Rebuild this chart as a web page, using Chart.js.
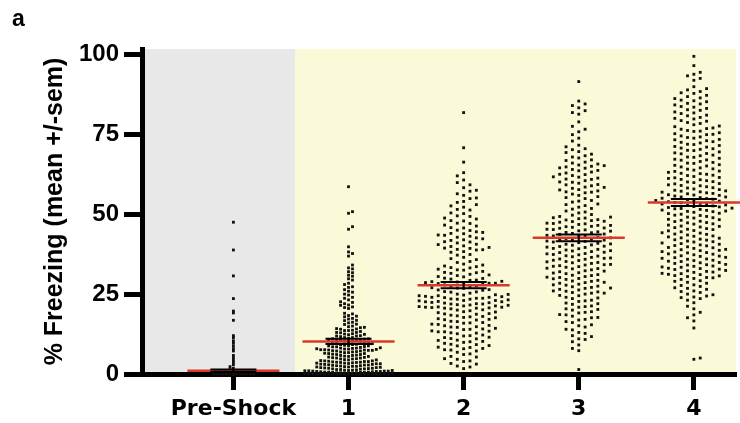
<!DOCTYPE html>
<html>
<head>
<meta charset="utf-8">
<title>Freezing</title>
<script src="https://cdn.jsdelivr.net/npm/chart.js@4.4.1/dist/chart.umd.min.js"></script>
<style>
  html, body { margin: 0; padding: 0; background: #ffffff; }
  canvas { display: block; }
</style>
</head>
<body>
<canvas id="myChart" width="740" height="423"></canvas>
<script>
// x categories and y ticks
const categories = ["Pre-Shock", "1", "2", "3", "4"];
const yTicks = [0, 25, 50, 75, 100];

// group mean (red line) and sem (black bar)
const means = [1.0, 10.2, 27.8, 42.6, 53.7];
const sems = [0.4, 0.8, 0.95, 1.05, 1.1];

// % freezing per animal, estimated from the swarm
const preShock = [
  47.5, 38.8, 30.7, 23.6, 19.7, 19.1, 16.8, 12.0, 11.4, 10.4, 9.6, 8.7, 7.9, 7.2, 5.8, 5.1, 4.3, 3.6, 2.9, 2.3,
  1.8, 1.4, 1.1, 0.8, 0.6, 0.4,
  0, 0, 0, 0, 0, 0, 0, 0, 0, 0, 0, 0, 0, 0, 0, 0, 0, 0, 0, 0,
  0, 0, 0, 0, 0, 0, 0, 0, 0, 0, 0, 0, 0, 0, 0, 0, 0, 0, 0, 0,
  0, 0, 0, 0, 0, 0, 0, 0, 0, 0, 0, 0, 0, 0, 0, 0, 0, 0, 0, 0,
  0, 0, 0, 0, 0, 0, 0, 0, 0, 0, 0, 0, 0, 0, 0, 0, 0, 0, 0, 0,
  0, 0, 0, 0, 0, 0, 0, 0, 0, 0, 0, 0, 0, 0, 0, 0, 0, 0, 0, 0,
  0, 0, 0, 0, 0, 0, 0, 0, 0, 0, 0, 0, 0, 0, 0, 0, 0, 0, 0, 0,
  0, 0, 0, 0, 0, 0, 0, 0, 0, 0, 0, 0, 0, 0, 0, 0, 0, 0, 0, 0,
  0, 0, 0, 0, 0, 0, 0, 0, 0, 0, 0, 0, 0, 0, 0, 0, 0, 0, 0, 0,
  0, 0, 0, 0, 0, 0, 0, 0, 0, 0, 0, 0, 0, 0, 0, 0, 0, 0, 0, 0,
  0, 0, 0, 0, 0, 0, 0, 0, 0, 0, 0, 0, 0, 0, 0, 0, 0, 0, 0, 0,
  0, 0, 0, 0, 0, 0, 0, 0, 0, 0, 0, 0, 0, 0, 0, 0, 0, 0, 0, 0
];
const shock1 = [
  58.6, 50.8, 50.3, 46.1, 45.3, 39.8, 38.2, 37.7, 36.9,
  34.1, 33.2, 32.9, 32.0, 31.7, 30.9, 30.6, 29.8, 29.4,
  28.4, 28.0, 27.3, 27.1, 26.4, 25.9, 25.6, 25.0, 24.7, 24.0, 23.7, 23.2,
  22.6, 22.4, 22.0, 21.6, 21.5, 21.0, 20.8, 20.5,
  19.0, 18.8, 18.3, 18.1, 17.9, 17.4, 17.2, 16.8, 16.7, 16.2, 16.0, 15.6, 15.5, 15.0, 14.8,
  14.6, 14.5, 14.2, 14.1, 14.0, 13.7, 13.6, 13.6, 13.3, 13.0, 13.0, 12.9, 12.6, 12.5, 12.4,
  12.3, 12.0, 11.9, 11.9, 11.7, 11.4, 11.4, 11.2, 11.0, 11.0, 10.9, 10.7, 10.6, 10.6, 10.5,
  10.4, 10.3, 10.3, 10.1, 9.9, 9.9, 9.8, 9.6, 9.5, 9.5, 9.3, 9.2, 9.2, 9.0, 8.9, 8.8, 8.8,
  8.6, 8.5, 8.5, 8.3, 8.2, 8.1, 8.1, 8.0, 7.9, 7.8, 7.8, 7.7, 7.6, 7.6, 7.5, 7.5, 7.4, 7.4,
  7.3, 7.2, 7.2, 7.0, 6.9, 6.9, 6.7, 6.7, 6.5, 6.4, 6.4, 6.2, 6.1, 6.1, 5.9, 5.8, 5.8, 5.6, 5.5, 5.5,
  5.3, 5.2, 5.1, 5.0, 5.0, 4.8, 4.7, 4.7, 4.5, 4.4, 4.4, 4.2, 4.1, 4.1, 4.0, 3.9, 3.9, 3.8, 3.7, 3.7,
  3.6, 3.6, 3.5, 3.4, 3.4, 3.3, 3.2, 3.2, 3.1, 3.0, 3.0, 2.9, 2.8, 2.8, 2.7, 2.6, 2.6, 2.5, 2.4, 2.4,
  2.3, 2.2, 2.2, 2.1, 2.0, 2.0, 1.9, 1.8, 1.8, 1.7, 1.6, 1.6, 1.5, 1.4, 1.4, 1.3, 1.2, 1.2, 1.1, 1.1,
  1.0, 1.0, 0.9, 0.9, 0.9, 0.8, 0.8, 0.8, 0.7, 0.7, 0.6, 0.6, 0.6, 0.5, 0.5, 0.5, 0.4, 0.4, 0.4, 0.3,
  0.3, 0.3, 0.2, 0.2, 0.2,
  0, 0, 0, 0, 0, 0, 0, 0, 0, 0, 0, 0, 0, 0, 0, 0, 0, 0, 0, 0
];
const shock2 = [
  81.8, 70.8, 66.3, 63.0, 62.0, 60.7, 59.9, 59.2,
  58.3, 57.5, 57.2, 56.4, 55.9, 55.1, 54.9, 54.0,
  53.7, 53.0, 52.6, 52.2, 51.5, 51.3, 50.4, 50.2, 49.5, 49.3, 48.8,
  48.5, 48.0, 47.9, 47.2, 47.1, 46.6, 46.3, 45.8, 45.7, 45.0, 44.9, 44.5, 44.3, 44.0,
  43.9, 43.5, 43.4, 43.1, 42.8, 42.6, 42.3, 42.0, 41.8, 41.4, 41.3, 41.0, 40.6, 40.5, 40.1,
  39.9, 39.6, 39.4, 39.3, 39.0, 38.9, 38.8,
  38.3, 38.1, 37.4, 37.2, 36.5, 36.1, 35.8, 35.2, 34.9, 34.4, 34.1, 33.8, 33.6,
  33.3, 33.2, 32.8, 32.6, 32.5, 32.1, 31.8, 31.7, 31.5, 31.2, 31.0, 30.8, 30.5, 30.4,
  30.0, 29.9, 29.7, 29.4, 29.3, 29.0, 28.9, 28.8, 28.6, 28.6, 28.4, 28.4, 28.3,
  28.1, 27.9, 27.6, 27.5, 27.4, 27.0, 26.9, 26.8, 26.4, 26.3, 26.2, 25.8, 25.7, 25.6, 25.3,
  25.0, 24.9, 24.8, 24.7,
  24.5, 24.5, 24.3, 24.2, 24.0, 24.0, 23.9, 23.7, 23.7, 23.5, 23.4, 23.4, 23.2, 23.0, 23.0,
  22.9, 22.7, 22.6, 22.6, 22.4, 22.3, 22.2, 22.0, 21.9, 21.9, 21.7, 21.6, 21.5, 21.3, 21.3,
  21.1, 21.0, 20.9, 20.9, 20.8, 20.7, 20.6, 20.6,
  20.4, 20.1, 20.0, 19.8, 19.5, 19.4, 19.2, 18.9, 18.8, 18.7, 18.4, 18.2, 18.0, 17.9,
  17.7, 17.6, 17.3, 17.1, 17.0, 16.9, 16.5, 16.4, 16.1, 16.0, 15.9, 15.6, 15.5, 15.2,
  15.1, 14.8, 14.7, 14.6, 14.3, 14.1, 14.0, 13.9, 13.5, 13.4, 13.2, 13.2, 12.9, 12.8,
  12.6, 12.2, 12.0, 11.9, 11.5, 11.4, 11.1, 11.0, 10.6, 10.5, 10.2, 10.1,
  9.9, 9.6, 9.3, 9.2, 8.9, 8.8, 8.4, 8.3, 8.0, 7.9, 7.6, 7.5,
  7.2, 6.8, 6.3, 6.1, 5.5, 5.3, 4.8, 4.6, 4.1, 3.9, 3.3, 3.1, 2.5, 2.2, 1.7
];
const shock3 = [
  91.5,
  85.4, 84.5, 84.0, 83.3, 82.4, 81.8, 81.3,
  78.9, 77.5, 76.6, 75.8, 74.9, 73.8, 72.9,
  71.6, 71.1, 70.5, 70.2, 69.6, 69.3, 68.8, 68.3, 67.9, 67.6, 67.0, 66.8, 66.3, 66.0, 65.7, 65.4, 65.2, 65.0,
  64.8, 64.5, 64.4, 64.0, 63.7, 63.6, 63.2, 62.9, 62.5, 62.4, 62.1, 61.7, 61.6, 61.3, 61.0, 60.9,
  60.5, 60.1, 60.0, 59.7, 59.3, 59.2, 58.9, 58.5, 58.4, 58.1, 57.7, 57.6, 57.3, 57.0, 56.9, 56.7,
  56.3, 55.9, 55.5, 55.2, 54.9, 54.3, 54.1, 53.8, 53.2, 53.0, 52.7, 52.2, 51.8, 51.6, 51.0, 50.7,
  50.4, 49.9, 49.7, 49.3,
  49.1, 48.9, 48.8, 48.6, 48.3, 48.2, 48.0, 47.8, 47.7, 47.5, 47.2, 47.1, 47.0, 46.8, 46.5,
  46.5, 46.2, 46.1, 45.9, 45.7, 45.6, 45.3, 45.2, 45.1, 44.8, 44.7, 44.5, 44.3, 44.2, 44.0,
  43.8, 43.7, 43.4, 43.3, 43.2, 43.0, 42.7, 42.6, 42.4, 42.2, 42.1, 41.9, 41.8, 41.6, 41.5,
  41.3, 41.1, 40.9, 40.7, 40.6, 40.4, 40.3, 40.0, 39.9, 39.7, 39.6, 39.3, 39.2, 39.0, 38.8,
  38.6, 38.5, 38.3, 38.1, 38.0, 37.7, 37.6, 37.4, 37.3, 37.0, 36.9, 36.7, 36.5, 36.3, 36.2,
  36.0, 35.9, 35.6, 35.5, 35.2, 35.1, 34.9, 34.8, 34.6, 34.3, 34.2, 34.1, 33.9, 33.7, 33.6,
  33.4, 33.1, 33.0, 32.9, 32.6, 32.3, 32.2, 32.0, 31.7, 31.6, 31.4, 31.1, 30.9, 30.8, 30.5,
  30.3, 30.2, 29.9, 29.8, 29.6, 29.3, 29.1, 29.0, 28.7, 28.6, 28.4, 28.1, 27.9, 27.8, 27.5,
  27.3, 27.1, 26.9, 26.8, 26.5, 26.3, 26.0, 25.9, 25.7, 25.5, 25.3, 25.3,
  25.0, 24.6, 24.5, 24.0, 23.8, 23.6, 23.1, 22.9, 22.7, 22.2, 22.0, 21.8, 21.3, 21.1,
  20.9, 20.4, 20.2, 20.0, 19.5, 19.3, 19.1, 18.6, 18.5, 18.1, 17.7, 17.6, 17.1, 16.9,
  16.4, 16.1, 15.4, 15.1, 14.7, 14.0, 13.8, 13.0, 12.7, 12.0, 11.7, 11.0, 10.8,
  10.1, 9.1, 8.0, 7.3,
  1.4
];
const shock4 = [
  99.4, 96.5,
  94.4, 93.8, 93.3, 92.5, 91.9,
  89.9, 89.3, 88.9, 88.4, 88.0, 87.8, 87.2, 86.8, 86.4,
  86.2, 85.7, 85.5, 85.2, 84.7, 84.5, 84.2, 83.7, 83.5, 83.1, 82.7, 82.5, 82.0, 81.7,
  81.5, 81.0, 80.8, 80.3, 80.0, 79.8, 79.3, 79.1, 78.7, 78.4, 78.0, 77.6, 77.4, 77.0,
  76.8, 76.6, 76.2, 76.0, 75.9, 75.5, 75.2, 75.0, 74.9, 74.5, 74.2, 74.0, 73.8, 73.4, 73.3,
  73.0, 72.7, 72.5, 72.3, 71.9, 71.8, 71.5, 71.2, 71.0, 70.7, 70.5, 70.3, 70.0, 69.9, 69.5,
  69.2, 69.0, 68.9, 68.5, 68.3, 67.9, 67.8, 67.5, 67.2, 67.0, 66.9, 66.5, 66.2, 66.0, 65.9,
  65.5, 65.3, 65.1, 64.8, 64.5,
  64.2, 64.1, 63.8, 63.5, 63.4, 63.1, 62.8, 62.7, 62.5, 62.2, 62.1, 61.8, 61.5, 61.4, 61.2, 60.9, 60.8,
  60.5, 60.2, 60.1, 59.9, 59.6, 59.5, 59.2, 59.0, 58.9, 58.6, 58.3, 58.2, 57.9, 57.7, 57.5, 57.3, 57.2,
  57.0, 56.9, 56.7, 56.5, 56.4, 56.1, 56.0, 55.9, 55.7, 55.4, 55.4, 55.2, 55.0, 54.9, 54.7, 54.6, 54.3, 54.2, 54.1, 53.9,
  53.7, 53.6, 53.4, 53.2, 53.1, 52.9, 52.8, 52.6, 52.4, 52.3, 52.1, 51.9, 51.8, 51.7, 51.5, 51.3, 51.2, 51.0, 50.9, 50.8,
  50.6, 50.3, 50.2, 50.0, 49.7, 49.6, 49.3, 49.1, 48.9, 48.8, 48.4, 48.3, 48.1, 47.8, 47.7, 47.4, 47.3, 47.0, 46.9, 46.6,
  46.3, 46.2, 46.0, 45.8, 45.5, 45.3, 45.2, 44.9, 44.8, 44.5, 44.2, 44.1, 43.8, 43.7, 43.5, 43.2, 43.1, 42.9, 42.6, 42.5,
  42.2, 42.0, 41.9, 41.6, 41.4, 41.3, 41.0, 40.8, 40.6, 40.4,
  40.2, 40.1, 39.8, 39.6, 39.5, 39.3, 39.0, 38.9, 38.7, 38.6, 38.3, 38.2, 38.0, 37.9, 37.6, 37.5, 37.3, 37.0, 36.9, 36.8,
  36.5, 36.4, 36.2, 36.0, 35.9, 35.6, 35.5, 35.3, 35.2, 34.9, 34.8, 34.6, 34.3, 34.2, 34.1, 33.8, 33.7, 33.5, 33.4, 33.1,
  33.0, 32.8, 32.7, 32.4, 32.3, 32.1, 31.9, 31.8, 31.5, 31.4, 31.2, 31.1, 30.8, 30.7, 30.5, 30.2, 30.1, 29.9,
  29.6, 29.2, 29.0, 28.7, 28.4, 27.9, 27.7, 27.4, 27.0, 26.8, 26.5, 26.0, 25.8, 25.5, 25.0, 24.8, 24.4, 24.1, 23.9, 23.6,
  23.1, 22.3, 21.2, 20.4, 19.3, 18.5, 17.6, 16.6,
  14.4, 5.0, 4.6
];
const groups = [preShock, shock1, shock2, shock3, shock4];

// plot box in px and axis ranges
const chartLeft = 142, chartRight = 740, chartTop = 49, chartBottom = 374;
const xMin = -0.794, xMax = 4.366, yMax = 101.7;
const shadeSplit = 0.535; // where grey turns into yellow
const pxPerX = (chartRight - chartLeft) / (xMax - xMin);
const pxPerY = (chartBottom - chartTop) / yMax;

// swarm spacing per group, px: min x gap, min y gap, max half width
const swarmGap = [[3.4, 1.6, 22], [4.0, 3.3, 46], [6.4, 5.5, 48], [6.4, 5.5, 48], [6.4, 5.5, 48]];

// lay the dots of one group side by side so they don't overlap
function swarm(values, i) {
  const [gapX, gapY, maxHalf] = swarmGap[i];
  const step = gapX / 2;
  const sorted = values.slice().sort((a, b) => a - b);
  const placed = [];
  sorted.forEach((v, n) => {
    const y = v * pxPerY;
    let best = 0, bestNear = -1;
    for (let k = 0; k * step <= maxHalf; k++) {
      const offs = k === 0 ? [0] : (n % 2 ? [k * step, -k * step] : [-k * step, k * step]);
      for (const o of offs) {
        let near = Infinity;
        for (let j = placed.length - 1; j >= 0; j--) {
          const p = placed[j];
          if (y - p.y >= gapY) break;
          if (Math.abs(p.o - o) < gapX - 0.01) near = Math.min(near, y - p.y);
        }
        if (near > bestNear) { bestNear = near; best = o; }
        if (near === Infinity) break;
      }
      if (bestNear === Infinity) break;
    }
    placed.push({ o: best, y: y, v: v });
  });
  return placed.map((p) => ({ x: i + p.o / pxPerX, y: p.v }));
}

// mean line and sem bars, with null gaps between pieces
const meanData = [];
const semData = [];
categories.forEach((c, i) => {
  const m = means[i], s = sems[i];
  meanData.push({ x: i - 0.4, y: m }, { x: i + 0.4, y: m }, { x: i + 0.5, y: null });
  semData.push(
    { x: i, y: m - s }, { x: i, y: m + s }, { x: i, y: null },
    { x: i - 0.2, y: m + s }, { x: i + 0.2, y: m + s }, { x: i, y: null },
    { x: i - 0.2, y: m - s }, { x: i + 0.2, y: m - s }, { x: i + 0.5, y: null }
  );
});

const datasets = [
  { data: semData, showLine: true, borderColor: "#000000", borderWidth: 2, pointRadius: 0, spanGaps: false, order: 0, clip: false },
  { data: meanData, showLine: true, borderColor: "#d8392c", borderWidth: 2.5, pointRadius: 0, spanGaps: false, order: 1, clip: false }
];
groups.forEach((g, i) => {
  datasets.push({
    data: swarm(g, i),
    pointStyle: "rect",
    pointRadius: 2,
    backgroundColor: "#111111",
    borderWidth: 0,
    order: 2,
    clip: false
  });
});

// grey pre-shock panel, yellow shock panel
const shadePlugin = {
  id: "shade",
  beforeDraw(chart) {
    const { ctx, chartArea: a, scales: { x } } = chart;
    const split = x.getPixelForValue(shadeSplit);
    ctx.save();
    ctx.fillStyle = "rgb(232,232,232)";
    ctx.fillRect(a.left, a.top, split - a.left, a.bottom - a.top);
    ctx.fillStyle = "rgb(250,249,216)";
    ctx.fillRect(split, a.top, a.right - split, a.bottom - a.top);
    ctx.restore();
  },
  afterDraw(chart) {
    const ctx = chart.ctx;
    ctx.save();
    ctx.fillStyle = "#000000";
    ctx.font = "bold 23px 'Liberation Sans'";
    ctx.textBaseline = "alphabetic";
    ctx.fillText("a", 12, 26);
    ctx.restore();
  }
};

const ctx = document.getElementById("myChart").getContext("2d");
const myChart = new Chart(ctx, {
  type: "scatter",
  data: { datasets: datasets },
  options: {
    responsive: false,
    animation: false,
    events: [],
    layout: { padding: { top: chartTop, left: 0, right: 0, bottom: 0 } },
    plugins: { legend: { display: false }, tooltip: { enabled: false } },
    scales: {
      x: {
        type: "linear",
        min: xMin,
        max: xMax,
        afterBuildTicks: (s) => { s.ticks = categories.map((c, i) => ({ value: i })); },
        afterFit: (s) => { s.height = 423 - chartBottom; },
        grid: { drawOnChartArea: false, drawTicks: true, tickLength: 16, tickWidth: 5, tickColor: "#000000" },
        border: { display: true, color: "#000000", width: 5 },
        ticks: {
          autoSkip: false,
          maxRotation: 0,
          padding: 6,
          color: "#000000",
          font: { family: "'DejaVu Sans'", weight: "bold", size: 22 },
          callback: (v, idx) => categories[idx]
        }
      },
      y: {
        min: 0,
        max: yMax,
        afterBuildTicks: (s) => { s.ticks = yTicks.map((v) => ({ value: v })); },
        afterFit: (s) => { s.width = chartLeft; },
        grid: { drawOnChartArea: false, drawTicks: true, tickLength: 18, tickWidth: 5, tickColor: "#000000" },
        border: { display: true, color: "#000000", width: 5 },
        ticks: {
          padding: 5,
          color: "#000000",
          font: { family: "'Liberation Sans'", weight: "bold", size: 24 },
          callback: (v) => String(v)
        },
        title: {
          display: true,
          text: "% Freezing (mean +/-sem)",
          color: "#000000",
          font: { family: "'Liberation Sans'", weight: "bold", size: 25 },
          padding: { top: 40, bottom: 0 }
        }
      }
    }
  },
  plugins: [shadePlugin]
});
</script>
</body>
</html>
